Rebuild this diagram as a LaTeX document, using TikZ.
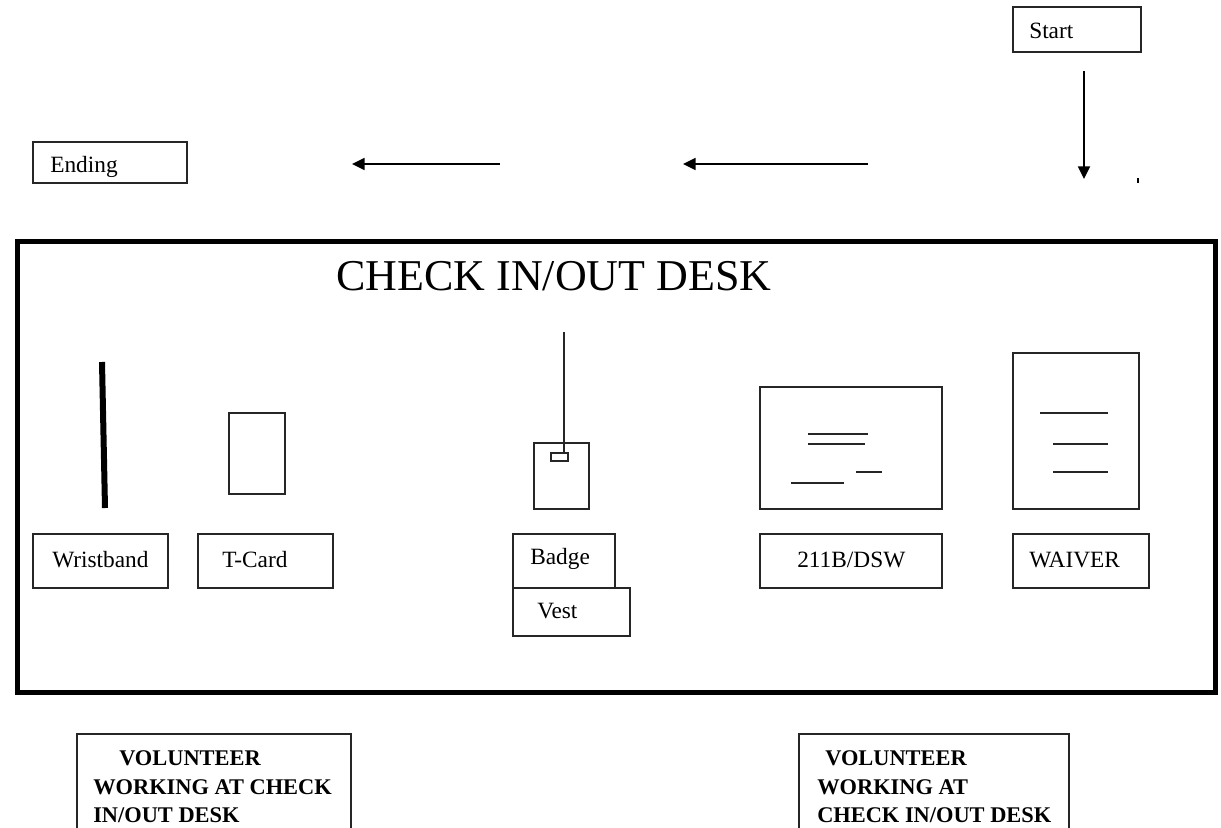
\documentclass[tikz,border=0pt]{standalone}
\usepackage{fontspec}
\setmainfont{Liberation Serif}
\usetikzlibrary{arrows.meta,fit}
\tikzset{
  box/.style={draw=black!85, line width=1.1pt, inner sep=0pt},
  lbl/.style={anchor=base west, inner sep=0pt, font=\fontsize{17.5}{20}\selectfont},
  vol/.style={anchor=base west, inner sep=0pt, align=left, font=\fontsize{16.8}{21.4}\selectfont\bfseries},
  arr/.style={line width=1.3pt, -{Triangle[length=9.5pt,width=9pt]}},
  thin/.style={draw=black!85, line width=1.1pt}
}
\begin{document}
\begin{tikzpicture}[x=0.75pt,y=-0.75pt]
\useasboundingbox (0,0) rectangle (1221,828);
% top boxes
\node[box, fit={(1013,7) (1141,52)}] (start) {};
\node[lbl] (startt) at (1029,38) {Start};
\node[box, fit={(33,142) (187,183)}] (ending) {};
\node[lbl] (endingt) at (50,172) {Ending};
% arrows
\coordinate (d1) at (1084,71); \coordinate (d2) at (1084,179);
\draw[arr] (d1) -- (d2);
\coordinate (t1) at (1138,178); \coordinate (t2) at (1138,183);
\draw[line width=1pt] (t1) -- (t2);
\coordinate (a1s) at (868,164); \coordinate (a1e) at (683,164);
\draw[arr] (a1s) -- (a1e);
\coordinate (a2s) at (500,164); \coordinate (a2e) at (352,164);
\draw[arr] (a2s) -- (a2e);
% desk
\node[draw, line width=3.75pt, inner sep=0pt, fit={(17,241) (1215,692)}] (desk) {};
\node[anchor=base, inner sep=0pt, font=\fontsize{33}{36}\selectfont] (title) at (554,290) {CHECK IN/OUT DESK};
% wristband
\coordinate (w1) at (102,362); \coordinate (w2) at (105,508);
\draw[line width=4.5pt] (w1) -- (w2);
\node[box, fit={(33,534) (168,588)}] (wrist) {};
\node[lbl] (wristt) at (52,567) {Wristband};
% T-card
\node[box, fit={(229,413) (285,494)}] (tcardimg) {};
\node[box, fit={(198,534) (333,588)}] (tcard) {};
\node[lbl] (tcardt) at (222,567) {T-Card};
% badge
\node[box, fit={(534,443) (589,509)}] (badgeimg) {};
\node[box, fit={(551,453) (568,461)}] (clip) {};
\coordinate (b1) at (564,332);
\draw[thin] (b1) -- (clip.north -| b1);
\node[box, fit={(513,534) (615,588)}] (badge) {};
\node[lbl] (badget) at (530,564) {Badge};
\node[box, fit={(513,588) (630,636)}] (vest) {};
\node[lbl] (vestt) at (537,618) {Vest};
% 211B/DSW
\node[box, fit={(760,387) (942,509)}] (dswimg) {};
\draw[thin] (808,434) -- (868,434);
\draw[thin] (808,444) -- (865,444);
\draw[thin] (856,472) -- (882,472);
\draw[thin] (791,483) -- (844,483);
\node[box, fit={(760,534) (942,588)}] (dsw) {};
\node[lbl] (dswt) at (797,567) {211B/DSW};
% waiver
\node[box, fit={(1013,353) (1139,509)}] (waivimg) {};
\draw[thin] (1040,413) -- (1108,413);
\draw[thin] (1053,444) -- (1108,444);
\draw[thin] (1053,472) -- (1108,472);
\node[box, fit={(1013,534) (1149,588)}] (waiver) {};
\node[lbl] (waivert) at (1029,567) {WAIVER};
% volunteers
\node[box, fit={(77,734) (351,840)}] (vol1) {};
\node[vol] (vol1a) at (119,765) {VOLUNTEER};
\node[vol] (vol1b) at (93,794) {WORKING AT CHECK};
\node[vol] (vol1c) at (93,822) {IN/OUT DESK};
\node[box, fit={(799,734) (1069,840)}] (vol2) {};
\node[vol] (vol2a) at (825,765) {VOLUNTEER};
\node[vol] (vol2b) at (817,794) {WORKING AT};
\node[vol] (vol2c) at (817,822) {CHECK IN/OUT DESK};
\end{tikzpicture}
\end{document}
